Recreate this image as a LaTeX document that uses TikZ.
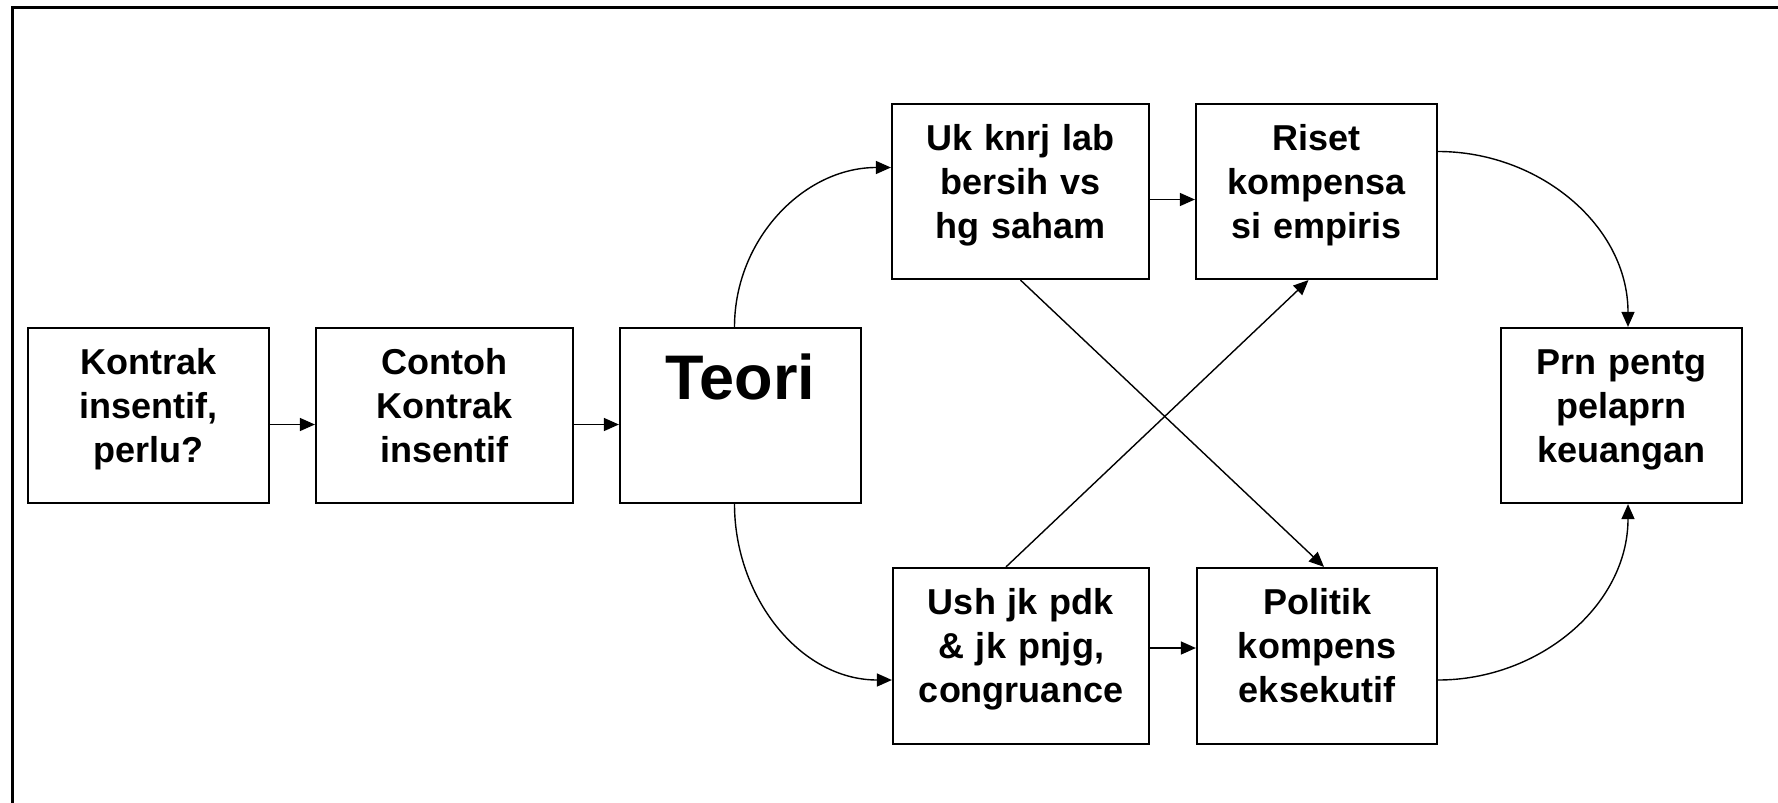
\documentclass[tikz,border=0pt]{standalone}
\usepackage{fontspec}
\setmainfont{Liberation Sans}
\usepackage{tikz}
\usetikzlibrary{arrows, arrows.meta}

\begin{document}
\begin{tikzpicture}[x=1pt, y=-1pt,
  kotak/.style={draw, line width=2.2pt, inner sep=0pt, align=center,
    font=\fontsize{36}{44}\selectfont\bfseries, text height=46pt, text depth=129pt},
  panah/.style={line width=1.4pt, -{Triangle[length=15pt, width=13pt]}}]
\useasboundingbox (0,0) rectangle (1778,803);
\draw[line width=3pt] (12,7) rectangle (1830,860);
\begin{scope}[every node/.style={kotak}]
   \node[text width=241pt] (K) at (148.5,415.5) {Kontrak\\insentif,\\perlu?};
   \node[text width=257pt] (C) at (444.5,415.5) {Contoh\\Kontrak\\insentif};
   \node[text width=241pt, font=\fontsize{63}{70}\selectfont\bfseries,
     text height=71pt, text depth=104pt] (T) at (740.5,415.5) {Teori};
   \node[text width=257pt] (U) at (1020.5,191.5) {Uk knrj lab\\bersih vs\\hg saham};
   \node[text width=241pt] (R) at (1316.5,191.5) {Riset\\kompensa\\si empiris};
   \node[text width=256pt, text depth=130pt] (S) at (1021,656) {Ush jk pdk\\\& jk pnjg,\\congruance};
   \node[text width=240pt, text depth=130pt] (P) at (1317,656) {Politik\\kompens\\eksekutif};
   \node[text width=241pt] (L) at (1621.5,415.5) {Prn pentg\\pelaprn\\keuangan};
 \end{scope}
 \draw[panah] ([yshift=-9pt]K.east) -- ([yshift=-9pt]C.west);
 \draw[panah] ([yshift=-9pt]C.east) -- ([yshift=-9pt]T.west);
 \draw[panah] ([xshift=-6pt]T.north) to[out=90, in=180] ([yshift=24pt]U.west);
 \draw[panah] ([xshift=-6pt]T.south) to[out=-90, in=180] ([yshift=-24pt]S.west);
 \draw[panah] ([yshift=-8pt]U.east) -- ([yshift=-8pt]R.west);
 \draw[panah] ([yshift=8pt]S.east) -- ([yshift=8pt]P.west);
 \draw[panah] (U.south) -- ([xshift=7pt]P.north);
 \draw[panah] ([xshift=-15pt]S.north) -- ([xshift=-8pt]R.south);
 \draw[panah] ([yshift=40pt]R.east) to[out=0, in=90] ([xshift=6.5pt]L.north);
 \draw[panah] ([yshift=-24pt]P.east) to[out=0, in=-90] ([xshift=6.5pt]L.south);
\end{tikzpicture}
\end{document}
